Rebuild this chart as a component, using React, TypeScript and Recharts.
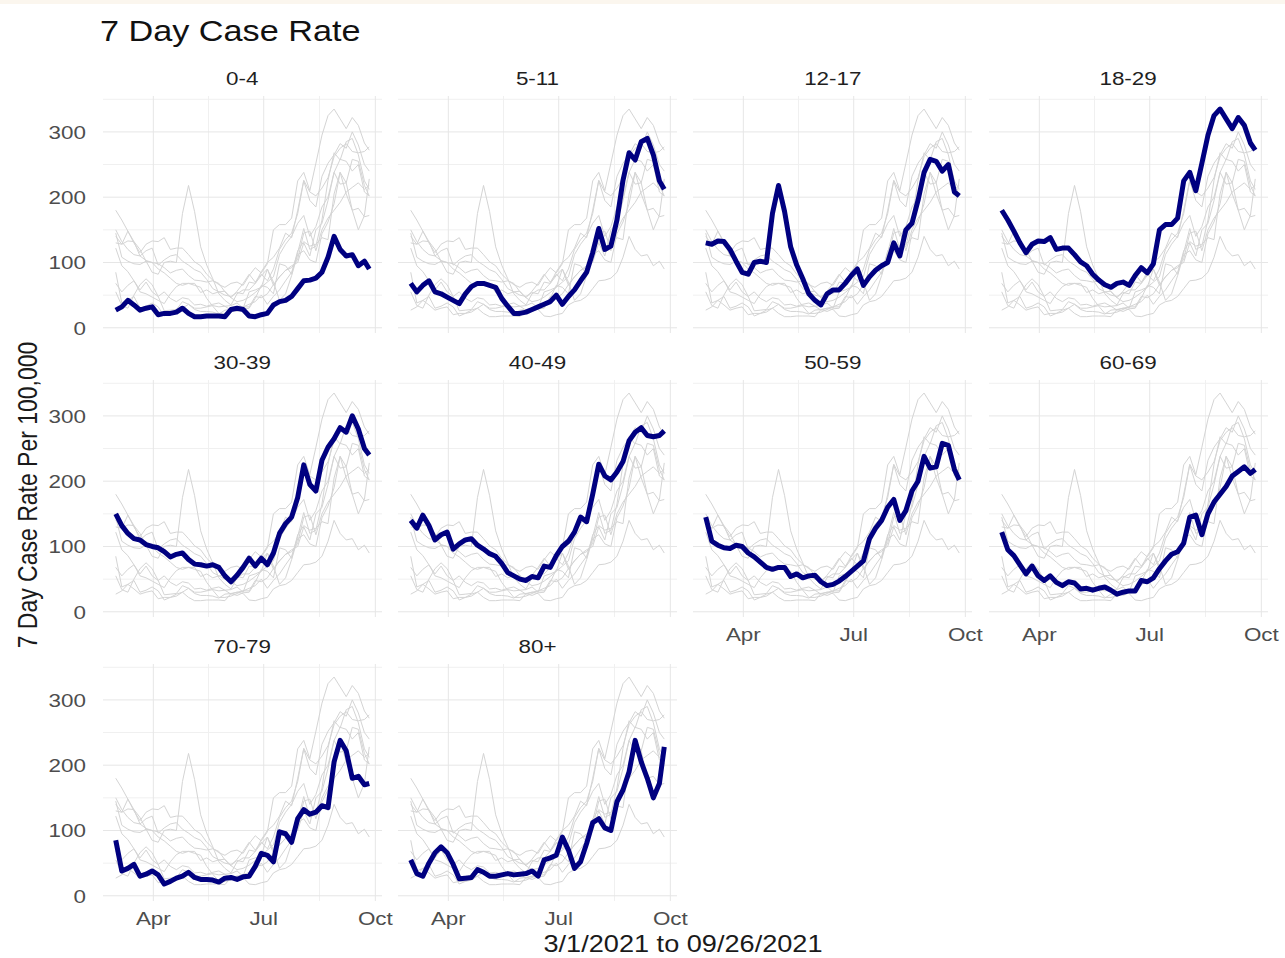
import React from 'react';
import { LineChart, Line, XAxis, YAxis, ReferenceLine } from 'recharts';

// Days since 3/1/2021
const days = [0, 5, 10, 15, 20, 25, 30, 35, 40, 45, 50, 55, 60, 65, 70, 75, 80, 85, 90, 95, 100, 105, 110, 115, 120, 125, 130, 135, 140, 145, 150, 155, 160, 165, 170, 175, 180, 185, 190, 195, 200, 205, 209];

const groups = ['0-4', '5-11', '12-17', '18-29', '30-39', '40-49', '50-59', '60-69', '70-79', '80+'];

const rate0to4 = [27, 32, 42, 35, 27, 30, 32, 20, 22, 22, 24, 30, 22, 17, 17, 18, 18, 18, 17, 28, 30, 28, 18, 17, 20, 22, 35, 40, 42, 48, 60, 72, 73, 76, 85, 108, 140, 120, 110, 112, 95, 102, 90];
const rate5to11 = [68, 55, 65, 72, 55, 52, 47, 42, 37, 52, 63, 68, 68, 65, 62, 45, 33, 22, 22, 24, 28, 32, 36, 40, 50, 36, 48, 58, 72, 85, 115, 152, 120, 125, 165, 226, 268, 257, 285, 290, 265, 225, 212];
const rate12to17 = [130, 128, 133, 132, 120, 102, 85, 82, 100, 102, 100, 175, 218, 178, 124, 96, 75, 52, 42, 35, 52, 58, 58, 68, 80, 90, 65, 78, 88, 95, 100, 130, 110, 150, 160, 195, 238, 258, 255, 240, 250, 208, 202];
const rate18to29 = [180, 165, 148, 130, 115, 128, 133, 132, 138, 120, 122, 122, 112, 101, 95, 82, 73, 66, 62, 68, 70, 65, 80, 92, 84, 98, 150, 158, 158, 168, 225, 238, 210, 252, 295, 325, 335, 320, 305, 322, 310, 283, 272];
const rate30to39 = [150, 132, 120, 112, 110, 103, 100, 98, 92, 84, 88, 90, 80, 73, 72, 70, 72, 68, 55, 46, 56, 68, 82, 70, 82, 72, 90, 120, 135, 145, 175, 225, 195, 185, 232, 252, 265, 282, 275, 300, 280, 250, 240];
const rate40to49 = [140, 128, 148, 132, 110, 118, 122, 96, 104, 110, 112, 102, 96, 89, 85, 74, 60, 55, 50, 48, 54, 52, 70, 68, 86, 100, 108, 122, 145, 138, 180, 226, 208, 202, 214, 230, 262, 275, 282, 270, 268, 270, 277];
const rate50to59 = [145, 108, 102, 98, 97, 102, 100, 90, 84, 76, 68, 65, 68, 68, 54, 58, 52, 55, 56, 46, 40, 42, 47, 54, 62, 70, 78, 112, 128, 140, 160, 172, 140, 155, 185, 200, 238, 220, 222, 258, 255, 218, 202];
const rate60to69 = [122, 95, 86, 72, 58, 70, 55, 48, 55, 45, 40, 46, 44, 35, 36, 33, 36, 38, 33, 27, 30, 32, 32, 48, 46, 52, 66, 78, 88, 92, 105, 145, 148, 118, 150, 168, 180, 192, 208, 215, 222, 212, 218];
const rate70to79 = [85, 38, 42, 48, 30, 33, 38, 32, 18, 22, 27, 30, 36, 28, 25, 25, 24, 21, 27, 28, 25, 29, 30, 45, 65, 62, 52, 98, 95, 82, 118, 132, 125, 128, 138, 135, 205, 238, 222, 180, 183, 170, 172];
const rate80plus = [55, 34, 30, 50, 66, 75, 66, 48, 26, 27, 28, 40, 36, 30, 30, 32, 34, 32, 33, 34, 38, 30, 55, 58, 62, 90, 70, 42, 52, 80, 112, 118, 104, 100, 144, 162, 190, 238, 205, 180, 150, 172, 228];

const seriesList = [rate0to4, rate5to11, rate12to17, rate18to29, rate30to39, rate40to49, rate50to59, rate60to69, rate70to79, rate80plus];

const xTickDays = [31, 122, 214];
const xTickLabels = ['Apr', 'Jul', 'Oct'];
const xMinorDays = [76.5, 168];
const yTicks = [0, 100, 200, 300];
const yMinorTicks = [50, 150, 250, 350];

const chartTitle = '7 Day Case Rate';
const xTitle = '3/1/2021 to 09/26/2021';
const yTitle = '7 Day Case Rate Per 100,000';

const data = days.map((d, i) => {
  const row: Record<string, number> = { day: d };
  seriesList.forEach((s, j) => {
    row['g' + j] = s[i];
  });
  return row;
});

const FONT = "'Liberation Sans', Arial, Helvetica, sans-serif";
const SX = 1.18;

const PLOT_W = 279;
const PLOT_H = 237;
const X_DOMAIN: [number, number] = [-10.5, 219.5];
const Y_DOMAIN: [number, number] = [-8, 355];
const PAD_R = 30;
const PAD_B = 12;

const XTick = (props: any) => {
  const { x, payload } = props;
  const idx = xTickDays.indexOf(payload.value);
  const label = idx >= 0 ? xTickLabels[idx] : '';
  return (
    <text
      transform={`translate(${x},${PLOT_H + 17}) scale(${SX},1)`}
      textAnchor="middle"
      dominantBaseline="central"
      fontSize={19}
      fontFamily={FONT}
      fill="#4d4d4d"
    >
      {label}
    </text>
  );
};

const YTick = (props: any) => {
  const { y, payload } = props;
  return (
    <text
      transform={`translate(43,${y}) scale(${SX},1)`}
      textAnchor="end"
      dominantBaseline="central"
      fontSize={19}
      fontFamily={FONT}
      fill="#4d4d4d"
    >
      {payload.value}
    </text>
  );
};

function Panel({ idx }: { idx: number }) {
  const c = idx % 4;
  const r = Math.floor(idx / 4);
  const plotLeft = 102.7 + 295.3 * c;
  const plotTop = 95.9 + 284 * r;
  const showY = c === 0;
  const showX = r === 2 || (r === 1 && c >= 2);
  const yW = showY ? 60 : 0;
  const xH = showX ? 35 : 0;
  const padB = showX ? 0 : PAD_B;
  return (
    <div style={{ position: 'absolute', left: plotLeft - yW, top: plotTop }}>
      <LineChart
        width={PLOT_W + yW + PAD_R}
        height={PLOT_H + xH + padB}
        data={data}
        margin={{ top: 0, right: PAD_R, bottom: padB, left: 0 }}
      >
        <XAxis
          dataKey="day"
          type="number"
          domain={X_DOMAIN}
          ticks={xTickDays}
          interval={0}
          hide={!showX}
          height={xH || 1}
          axisLine={false}
          tickLine={false}
          tick={<XTick />}
          allowDataOverflow
        />
        <YAxis
          type="number"
          domain={Y_DOMAIN}
          ticks={yTicks}
          interval={0}
          hide={!showY}
          width={yW || 1}
          axisLine={false}
          tickLine={false}
          tick={<YTick />}
          allowDataOverflow
        />
        {yMinorTicks.map((v) => (
          <ReferenceLine key={'ym' + v} y={v} stroke="#f0f0f0" strokeWidth={1} />
        ))}
        {xMinorDays.map((v) => (
          <ReferenceLine key={'xm' + v} x={v} stroke="#f0f0f0" strokeWidth={1} />
        ))}
        {yTicks.map((v) => (
          <ReferenceLine key={'yM' + v} y={v} stroke="#e6e6e6" strokeWidth={1} />
        ))}
        {xTickDays.map((v) => (
          <ReferenceLine key={'xM' + v} x={v} stroke="#e6e6e6" strokeWidth={1} />
        ))}
        {groups.map((g, j) =>
          j === idx ? null : (
            <Line
              key={g}
              type="linear"
              dataKey={'g' + j}
              stroke="#d4d4d4"
              strokeWidth={1}
              dot={false}
              activeDot={false}
              isAnimationActive={false}
            />
          )
        )}
        <Line
          type="linear"
          dataKey={'g' + idx}
          stroke="#000080"
          strokeWidth={5}
          strokeLinejoin="round"
          dot={false}
          activeDot={false}
          isAnimationActive={false}
        />
      </LineChart>
    </div>
  );
}

export default function App() {
  return (
    <div
      style={{
        position: 'absolute',
        left: 0,
        top: 0,
        width: 1285,
        height: 958,
        background: '#ffffff',
        overflow: 'hidden',
      }}
    >
      <div style={{ position: 'absolute', left: 0, top: 0, width: 1285, height: 4, background: '#fbf6ee' }} />
      {groups.map((g, i) => (
        <Panel key={g} idx={i} />
      ))}
      <svg
        width={1285}
        height={958}
        style={{ position: 'absolute', left: 0, top: 0, pointerEvents: 'none' }}
      >
        <text
          transform={`translate(100,41) scale(${SX},1)`}
          fontSize={29}
          fontFamily={FONT}
          fill="#111111"
        >
          {chartTitle}
        </text>
        {groups.map((g, i) => {
          const c = i % 4;
          const r = Math.floor(i / 4);
          const cx = 102.7 + 295.3 * c + PLOT_W / 2;
          const cy = 95.9 + 284 * r - 18;
          return (
            <text
              key={g}
              transform={`translate(${cx},${cy}) scale(${SX},1)`}
              textAnchor="middle"
              dominantBaseline="central"
              fontSize={19}
              fontFamily={FONT}
              fill="#1f1f1f"
            >
              {g}
            </text>
          );
        })}
        <text
          transform={`translate(683,952) scale(${SX},1)`}
          textAnchor="middle"
          fontSize={23}
          fontFamily={FONT}
          fill="#1a1a1a"
        >
          {xTitle}
        </text>
        <text
          transform={`translate(37,495) rotate(-90) scale(1,${SX})`}
          textAnchor="middle"
          fontSize={23}
          fontFamily={FONT}
          fill="#1a1a1a"
        >
          {yTitle}
        </text>
      </svg>
    </div>
  );
}
